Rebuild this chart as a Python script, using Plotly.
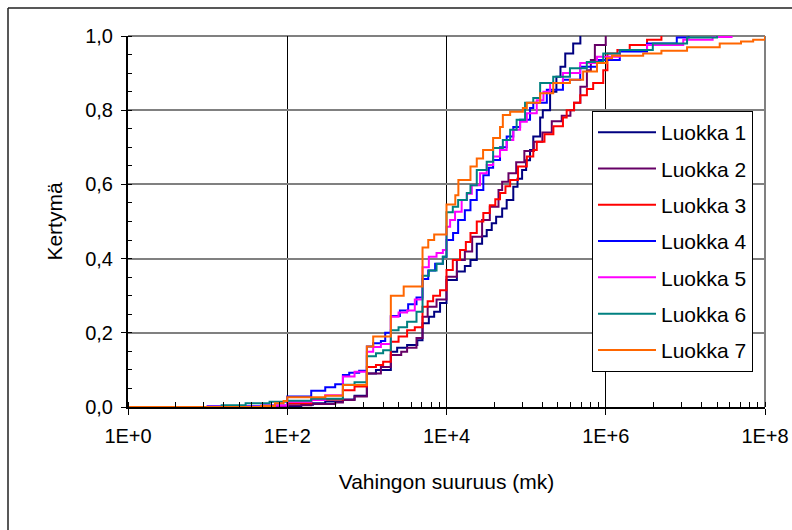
import plotly.graph_objects as go

W, H = 792, 530
ML, MR, MT, MB = 128, 27, 36, 123

names = ["Luokka 1", "Luokka 2", "Luokka 3", "Luokka 4", "Luokka 5", "Luokka 6", "Luokka 7"]
colors = ["#000080", "#660066", "#FF0000", "#0000FF", "#FF00FF", "#008080", "#FF6600"]

# Luokka 1
x1 = [1, 100, 150, 210, 300, 500, 700, 1000, 1300, 2000, 2400, 3200, 4300, 5000, 6000, 7000, 8300,
      10000, 13500, 17000, 20000, 24000, 28000, 32000, 37000, 42000, 50000, 57000, 69000, 78000, 89000,
      100000, 112000, 123000, 150000, 162000, 200000, 240000, 270000, 310000, 390000, 480000]
f1 = [0, 0.003, 0.006, 0.01, 0.015, 0.02, 0.03, 0.09, 0.10, 0.149, 0.16, 0.167, 0.18, 0.226, 0.243, 0.257, 0.28,
      0.342, 0.365, 0.38, 0.396, 0.44, 0.46, 0.477, 0.495, 0.513, 0.535, 0.558, 0.594, 0.615, 0.639,
      0.665, 0.693, 0.729, 0.78, 0.80, 0.85, 0.89, 0.917, 0.953, 0.98, 1.0]

# Luokka 2
x2 = [1, 100, 200, 400, 500, 700, 1000, 1500, 2000, 2700, 3200, 4200, 5000, 5800, 7500,
      10000, 13500, 17000, 21000, 28000, 35000, 45000, 50000, 60000, 75000, 95000, 125000, 160000,
      210000, 280000, 360000, 400000, 480000, 580000, 650000, 730000, 1000000]
f2 = [0, 0.005, 0.008, 0.012, 0.019, 0.028, 0.09, 0.108, 0.14, 0.149, 0.16, 0.186, 0.243, 0.27, 0.29,
      0.351, 0.396, 0.419, 0.459, 0.504, 0.54, 0.585, 0.607, 0.63, 0.66, 0.69, 0.715, 0.74,
      0.77, 0.785, 0.80, 0.82, 0.863, 0.908, 0.935, 0.976, 1.0]

# Luokka 3
x3 = [1, 50, 100, 200, 500, 700, 1000, 1300, 1600, 2000, 2500, 3200, 4000, 5000, 5800, 6800, 8300,
      10000, 12000, 14800, 17500, 20000, 24000, 29000, 35000, 41000, 47000, 55000, 63000, 79000,
      102000, 123000, 136000, 170000, 220000, 290000, 323000, 400000, 478000, 580000,
      695000, 930000, 1050000, 1400000, 2000000, 3300000, 5000000]
f3 = [0, 0.003, 0.01, 0.02, 0.045, 0.055, 0.108, 0.113, 0.122, 0.176, 0.19, 0.207, 0.215, 0.27, 0.285, 0.30, 0.315,
      0.369, 0.396, 0.423, 0.445, 0.469, 0.50, 0.523, 0.544, 0.56, 0.577, 0.595, 0.612, 0.648,
      0.675, 0.693, 0.715, 0.735, 0.757, 0.78, 0.80, 0.82, 0.84, 0.857,
      0.873, 0.908, 0.953, 0.962, 0.976, 0.99, 1.0]

# Luokka 4
x4 = [1, 10, 50, 100, 200, 300, 400, 500, 600, 800, 1000, 1200, 1500, 1700, 2000, 2600, 3300, 4200,
      5000, 5900, 7200, 9000, 10000, 12100, 14000, 17000, 20000, 24000, 29000, 34000, 38500, 47000,
      57000, 69000, 84000, 112000, 123000, 182000, 290000, 478000, 776000, 1500000, 3300000,
      7800000, 11000000]
f4 = [0, 0.002, 0.004, 0.028, 0.044, 0.053, 0.061, 0.086, 0.092, 0.098, 0.163, 0.172, 0.178, 0.20, 0.245, 0.26, 0.277, 0.295,
      0.345, 0.368, 0.386, 0.405, 0.45, 0.469, 0.504, 0.53, 0.558, 0.585, 0.625, 0.645, 0.666, 0.70,
      0.729, 0.755, 0.774, 0.806, 0.82, 0.855, 0.882, 0.917, 0.935, 0.958, 0.98,
      0.996, 1.0]

# Luokka 5
x5 = [1, 10, 47, 100, 200, 300, 500, 700, 1000, 1200, 1500, 2000, 2500, 3200, 4000, 5000, 6000, 7500, 9000,
      10000, 11100, 12800, 15500, 18000, 20800, 26400, 32000, 38500, 47000, 57000, 69000, 84000,
      102000, 136000, 165000, 200000, 290000, 478000, 776000, 1500000, 3300000, 9400000,
      22000000, 38000000]
f5 = [0, 0.001, 0.004, 0.014, 0.019, 0.032, 0.082, 0.095, 0.149, 0.162, 0.17, 0.243, 0.255, 0.26, 0.29, 0.377, 0.405, 0.415, 0.423,
      0.486, 0.504, 0.526, 0.558, 0.575, 0.598, 0.63, 0.652, 0.675, 0.693, 0.72, 0.747, 0.769,
      0.792, 0.827, 0.85, 0.873, 0.90, 0.927, 0.944, 0.962, 0.976, 0.99,
      0.997, 1.0]

# Luokka 6
x6 = [1, 15, 30, 60, 100, 200, 500, 700, 1000, 1300, 1600, 2000, 2500, 3200, 4200, 5000, 6000, 7500, 9000,
      10000, 12000, 14000, 18000, 20000, 24000, 32000, 38500, 51000, 63000, 76000, 97000, 123000,
      150000, 219000, 355000, 578000, 930000, 1500000, 3900000, 10500000, 25000000]
f6 = [0, 0.005, 0.01, 0.014, 0.017, 0.022, 0.06, 0.067, 0.137, 0.145, 0.153, 0.207, 0.215, 0.23, 0.257, 0.354, 0.368, 0.386, 0.405,
      0.525, 0.54, 0.558, 0.577, 0.598, 0.639, 0.661, 0.698, 0.72, 0.747, 0.774, 0.82, 0.833,
      0.873, 0.89, 0.913, 0.93, 0.953, 0.962, 0.98, 0.996, 1.0]

# Luokka 7
x7 = [1, 47, 70, 90, 100, 300, 500, 1000, 1200, 2000, 2900, 5000, 5900, 7000,
      10000, 12900, 14100, 20000, 24000, 28800, 38500, 47000, 51000, 63000, 91000, 102000, 150000,
      219000, 355000, 520000, 776000, 1030000, 1200000, 2950000, 5000000, 10500000, 27000000,
      50000000, 71000000, 100000000]
f7 = [0, 0.003, 0.01, 0.016, 0.026, 0.03, 0.059, 0.163, 0.19, 0.30, 0.325, 0.43, 0.45, 0.465,
      0.546, 0.571, 0.612, 0.648, 0.67, 0.693, 0.725, 0.755, 0.787, 0.796, 0.806, 0.82, 0.846,
      0.873, 0.882, 0.904, 0.927, 0.94, 0.947, 0.953, 0.96, 0.97, 0.98,
      0.985, 0.99, 1.0]

xs = [x1, x2, x3, x4, x5, x6, x7]
fs = [f1, f2, f3, f4, f5, f6, f7]

x_tick_vals = [1, 100, 10000, 1000000, 100000000]
x_tick_text = ["1E+0", "1E+2", "1E+4", "1E+6", "1E+8"]

FONT = "Liberation Sans, Arial, sans-serif"

fig = go.Figure()
for name, c, xv, fv in zip(names, colors, xs, fs):
    fig.add_trace(go.Scatter(x=xv, y=fv, mode="lines", name=name, legendgroup=name,
                             line=dict(color=c, width=2, shape="hv")))

# minor tick positions on the log axis (Excel-style k^2 subdivisions)
minor_vals = []
for b in x_tick_vals[:-1]:
    for k in range(1, 11):
        minor_vals.append(b * k * k)
minor_vals.append(x_tick_vals[-1])

pw = W - ML - MR
ph = H - MT - MB
bx0 = (8 - ML) / pw
bx1 = (W + 5 - ML) / pw
by1 = (H - MB - 8) / ph
by0 = (H - MB - H - 5) / ph

fig.update_layout(
    width=W, height=H,
    margin=dict(l=ML, r=MR, t=MT, b=MB, pad=0, autoexpand=False),
    paper_bgcolor="white", plot_bgcolor="white",
    separators=", ",
    font=dict(family=FONT, size=20, color="black"),
    showlegend=True,
    legend=dict(x=(592 - ML) / pw, y=(H - MB - 111) / ph, xanchor="left", yanchor="top",
                bgcolor="white", bordercolor="black", borderwidth=1,
                font=dict(family=FONT, size=21, color="black"),
                tracegroupgap=6, itemwidth=58),
    xaxis=dict(type="log", range=[0, 8], tickmode="array", tickvals=x_tick_vals, ticktext=x_tick_text,
               automargin=False,
               ticks="outside", ticklen=6, tickwidth=1, tickcolor="black",
               showline=True, linecolor="black", linewidth=2,
               showgrid=True, gridcolor="black", gridwidth=1, zeroline=False,
               minor=dict(tickmode="array", tickvals=minor_vals, ticks="inside", ticklen=5,
                          tickwidth=1, tickcolor="black", showgrid=False),
               ticklabelstandoff=4,
               tickfont=dict(family=FONT, size=20, color="black"),
               title=dict(text="Vahingon suuruus (mk)", standoff=28,
                          font=dict(family=FONT, size=21, color="black"))),
    yaxis=dict(range=[0, 1], tickmode="linear", tick0=0, dtick=0.2, tickformat=".1f",
               automargin=False,
               ticks="outside", ticklen=5, tickwidth=1, tickcolor="black",
               showline=True, linecolor="black", linewidth=2,
               showgrid=True, gridcolor="#808080", gridwidth=2, zeroline=False,
               minor=dict(dtick=0.05, ticks="inside", ticklen=4, tickwidth=1, tickcolor="black",
                          showgrid=False),
               ticklabelstandoff=4,
               tickfont=dict(family=FONT, size=20, color="black"),
               title=dict(text="Kertymä", standoff=17,
                          font=dict(family=FONT, size=21, color="black"))),
    shapes=[
        dict(type="line", xref="paper", yref="paper", x0=1, x1=1, y0=0, y1=1,
             line=dict(color="#808080", width=2), layer="between"),
        dict(type="line", xref="paper", yref="paper", x0=0, x1=1, y0=1, y1=1,
             line=dict(color="#808080", width=2), layer="between"),
        dict(type="line", xref="paper", yref="paper", x0=bx0, x1=bx0, y0=by0, y1=by1,
             line=dict(color="#202020", width=1.5)),
        dict(type="line", xref="paper", yref="paper", x0=bx0, x1=bx1, y0=by1, y1=by1,
             line=dict(color="#202020", width=1.5)),
    ],
)

fig.write_html("out.html")
